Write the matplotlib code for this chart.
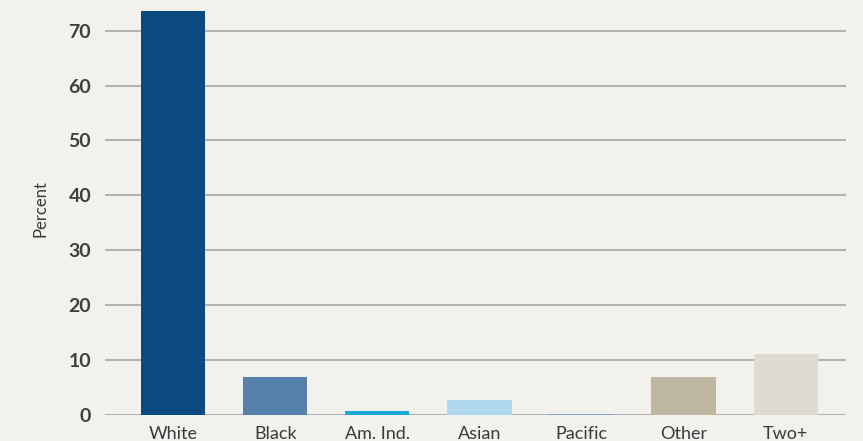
import matplotlib
matplotlib.use("Agg")
import matplotlib.pyplot as plt

groups = ["White", "Black", "Am. Ind.", "Asian", "Pacific", "Other", "Two+"]
percent = [73.6, 6.9, 0.7, 2.7, 0.1, 6.9, 11.1]
colors = ["#0b4a80", "#5580aa", "#1aa9d6", "#b0d8ee", "#7fa7c9", "#c0b7a2", "#dedcd0"]
yticks = [0, 10, 20, 30, 40, 50, 60, 70]

bg = "#f2f1ed"
plt.rcParams["font.family"] = ["Lato", "DejaVu Sans"]

fig = plt.figure(figsize=(8.63, 4.41), dpi=100, facecolor=bg)
ax = fig.add_axes([105 / 863, 0.06, (846 - 105) / 863, 0.9325], facecolor=bg)

x = list(range(len(groups)))
ax.bar(x, percent, width=0.63, color=colors, zorder=3)

ax.set_xlim(-0.667, 6.59)
ax.set_ylim(0, 75)
ax.set_yticks(yticks)
ax.set_xticks(x)
ax.set_xticklabels(groups, fontsize=13, color="#3a3a3a")
ax.set_yticklabels([str(v) for v in yticks], fontsize=14, fontweight="bold", color="#3f3f3f")
ax.tick_params(axis="both", length=0)
ax.tick_params(axis="y", pad=10)
ax.tick_params(axis="x", pad=8)
ax.grid(axis="y", color="#b3b3b3", linewidth=1.5, zorder=1)
for s in ax.spines.values():
    s.set_visible(False)
ax.set_ylabel("Percent", fontsize=12, color="#3a3a3a", labelpad=14)

fig.savefig("out.png", dpi=100, facecolor=bg)
